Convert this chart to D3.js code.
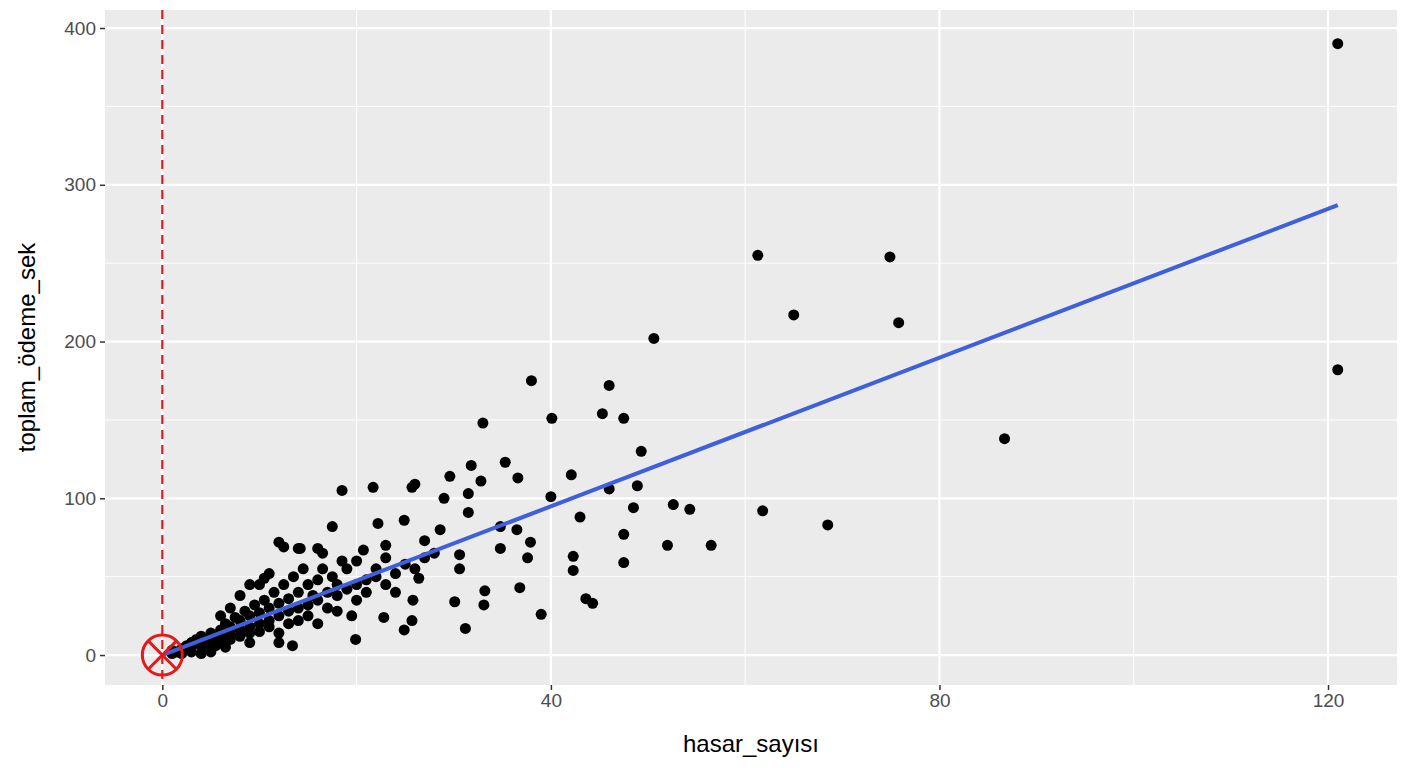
<!DOCTYPE html>
<html><head><meta charset="utf-8">
<script src="https://cdn.jsdelivr.net/npm/d3@7"></script>
<style>body{margin:0;background:#fff}text{font-family:Arial,"Liberation Sans",sans-serif}</style>
</head><body><svg id="chart"></svg>
<script>
const width = 1408, height = 768;
const margin = {left: 105, right: 11, top: 10, bottom: 83};

const xTicks = [0, 40, 80, 120];
const yTicks = [0, 100, 200, 300, 400];
const fitLine = [[0, 0], [121, 287]];
// outliers and sparse points
const outerPoints = [[121,390],[121,182],[61.3,255],[74.9,254],[65,217],[75.8,212],[86.7,138],[50.6,202],[38,175],[46,172],[40.1,151],[45.3,154],[47.5,151],[49.3,130],[33,148],[42.1,115],[48.9,108],[46,106],[40,101],[48.5,94],[52.6,96],[54.3,93],[61.8,92],[68.5,83],[52,70],[56.5,70],[43,88],[47.5,77],[47.5,59],[42.3,63],[42.3,54],[43.6,36],[44.3,33],[39,26],[31.2,17],[35.3,123],[36.6,113],[31.8,121],[32.8,111],[29.6,114],[29,100],[31.5,103],[31.5,91],[25.7,107],[26,109],[21.7,107],[17.5,82],[22.2,84],[24.9,86],[34.8,82],[36.5,80],[37.9,72],[34.8,68],[37.6,62],[36.8,43],[33.2,41],[33.1,32],[30.1,34],[30.6,55],[26.4,49],[25.8,35],[24.9,16],[25.7,22],[19.9,10],[19.5,25],[22.8,24],[13.4,6],[28.6,80],[27,73],[23,70],[20.7,67],[16.5,65],[14.2,68],[12.5,69],[10.5,49],[30.6,64],[18.5,105]];
// dense cluster near origin
const clusterPoints = [[1,1],[1,3],[1.5,2],[2,4],[2,1],[2.5,6],[3,5],[3,8],[3,2],[3.5,10],[4,6],[4,9],[4,12],[4.5,4],[5,8],[5,14],[5,11],[5.5,6],[6,12],[6,16],[6,9],[6.5,20],[7,14],[7,10],[7,18],[7.5,24],[8,16],[8,12],[8,22],[8.5,28],[9,18],[9,25],[9,14],[9.5,32],[10,20],[10,27],[10,15],[10.5,35],[11,22],[11,30],[11,18],[11.5,40],[12,25],[12,33],[12,14],[12.5,45],[13,28],[13,36],[13,20],[13.5,50],[14,30],[14,40],[14,22],[14.5,55],[15,32],[15,45],[15,25],[15.5,38],[16,35],[16,48],[16,20],[16.5,55],[17,40],[17,30],[17.5,50],[18,38],[18,45],[18,28],[18.5,60],[19,42],[19,55],[20,45],[20,35],[20,60],[21,48],[21,40],[22,50],[22,55],[23,45],[23,62],[24,52],[24,40],[25,58],[26,55],[27,62],[28,65],[8,38],[9,45],[11,52],[12,72],[7,30],[10,45],[6,25],[14,68],[16,68],[6.5,5],[5,2],[9,8],[12,8],[4,1]];

const svg = d3.select("#chart").attr("width", width).attr("height", height);

const x = d3.scaleLinear().domain([-5.9, 127.1]).range([margin.left, width - margin.right]);
const y = d3.scaleLinear().domain([-19.1, 411.5]).range([height - margin.bottom, margin.top]);

svg.append("rect")
    .attr("x", margin.left).attr("y", margin.top)
    .attr("width", width - margin.left - margin.right)
    .attr("height", height - margin.top - margin.bottom)
    .attr("fill", "#EBEBEB");

// minor grid
const g = svg.append("g");
[20, 60, 100].forEach(v => g.append("line").attr("x1", x(v)).attr("x2", x(v))
    .attr("y1", margin.top).attr("y2", height - margin.bottom).attr("stroke", "#fff").attr("stroke-width", 1));
[50, 150, 250, 350].forEach(v => g.append("line").attr("y1", y(v)).attr("y2", y(v))
    .attr("x1", margin.left).attr("x2", width - margin.right).attr("stroke", "#fff").attr("stroke-width", 1));
xTicks.forEach(v => g.append("line").attr("x1", x(v)).attr("x2", x(v))
    .attr("y1", margin.top).attr("y2", height - margin.bottom).attr("stroke", "#fff").attr("stroke-width", 2.2));
yTicks.forEach(v => g.append("line").attr("y1", y(v)).attr("y2", y(v))
    .attr("x1", margin.left).attr("x2", width - margin.right).attr("stroke", "#fff").attr("stroke-width", 2.2));

const xAxis = svg.append("g").attr("transform", `translate(0,${height - margin.bottom})`)
    .call(d3.axisBottom(x).tickValues(xTicks).tickSize(5).tickPadding(4));
const yAxis = svg.append("g").attr("transform", `translate(${margin.left},0)`)
    .call(d3.axisLeft(y).tickValues(yTicks).tickSize(5).tickPadding(4));
[xAxis, yAxis].forEach(a => {
    a.select(".domain").remove();
    a.selectAll("line").attr("stroke", "#333").attr("stroke-width", 1.5);
    a.selectAll("text").attr("fill", "#4D4D4D").style("font-size", "19px");
});

svg.append("g").selectAll("circle")
    .data(clusterPoints.concat(outerPoints))
    .enter().append("circle")
    .attr("cx", d => x(d[0])).attr("cy", d => y(d[1]))
    .attr("r", 5.5).attr("fill", "#000");

svg.append("line")
    .attr("x1", x(0)).attr("x2", x(0)).attr("y1", margin.top).attr("y2", height - margin.bottom)
    .attr("stroke", "#E31A1C").attr("stroke-width", 2.2).attr("stroke-dasharray", "9,6");

svg.append("path").datum(fitLine)
    .attr("d", d3.line().x(d => x(d[0])).y(d => y(d[1])))
    .attr("stroke", "#3F5FDB").attr("stroke-width", 4).attr("fill", "none");

const cx = x(0), cy = y(0), r = 20;
svg.append("circle").attr("cx", cx).attr("cy", cy).attr("r", r)
    .attr("fill", "none").attr("stroke", "#E31A1C").attr("stroke-width", 3);
const k = r * 0.707;
svg.append("path").attr("d", `M${cx-k},${cy-k}L${cx+k},${cy+k}M${cx-k},${cy+k}L${cx+k},${cy-k}`)
    .attr("stroke", "#E31A1C").attr("stroke-width", 3);

svg.append("text").attr("x", (margin.left + width - margin.right) / 2).attr("y", 752)
    .attr("text-anchor", "middle").style("font-size", "24px").text("hasar_sayısı");
svg.append("text").attr("transform", `translate(35,${(margin.top + height - margin.bottom) / 2}) rotate(-90)`)
    .attr("text-anchor", "middle").style("font-size", "24px").text("toplam_ödeme_sek");
</script></body></html>
